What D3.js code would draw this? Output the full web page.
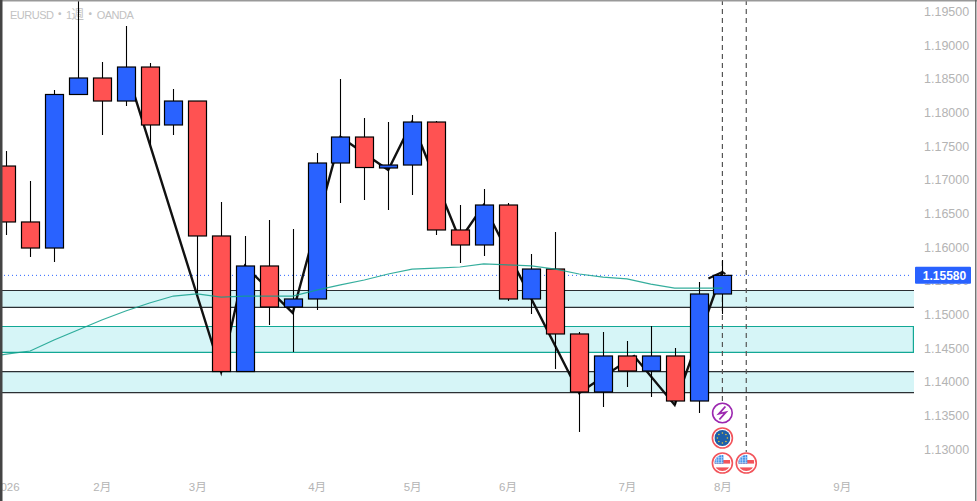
<!DOCTYPE html>
<html>
<head>
<meta charset="utf-8">
<script src="https://cdn.jsdelivr.net/npm/d3@7"></script>
<style>
html, body { margin: 0; padding: 0; background: #fff; overflow: hidden; }
svg { display: block; }
text { font-family: "Liberation Sans", "Noto Sans CJK JP", sans-serif; }
.axis text { fill: #b4b4b4; font-weight: normal; }
.y.axis text { font-size: 12.5px; }
.x.axis text { font-size: 11.5px; }
.axis path, .axis line { display: none; }
</style>
</head>
<body>
<div id="graphContainer"></div>
<script>
var W = 977, H = 501;

// weekly candles, first bar is the week of 2026-01-05
var opens = [1.17204,1.16373,1.15986,1.18267,1.18512,1.18170,1.18675,1.17814,1.18170,1.16165,1.14151,1.15719,1.15110,1.15229,1.17249,1.17635,1.17175,1.17219,1.17858,1.16254,1.16031,1.16625,1.15229,1.15674,1.14709,1.13847,1.14382,1.14159,1.14382,1.13713,1.15303]
var highs = [1.17427,1.16982,1.18334,1.19750,1.18750,1.19285,1.18735,1.18349,1.18170,1.16670,1.16165,1.16402,1.16269,1.17398,1.18497,1.17918,1.17858,1.17962,1.17873,1.16625,1.16863,1.16655,1.15897,1.16224,1.14738,1.14738,1.14605,1.14827,1.14501,1.15481,1.15808]
var lows = [1.16179,1.15853,1.15778,1.18267,1.17665,1.18096,1.17517,1.17665,1.15318,1.14129,1.14151,1.14842,1.14441,1.15065,1.16655,1.16699,1.16551,1.16774,1.16179,1.15763,1.15867,1.15199,1.15006,1.14189,1.13253,1.13624,1.13921,1.13773,1.13654,1.13535,1.15006]
var closes = [1.16373,1.15986,1.18267,1.18512,1.18170,1.18675,1.17814,1.18170,1.16165,1.14151,1.15719,1.15110,1.15229,1.17249,1.17635,1.17182,1.17219,1.17858,1.16254,1.16031,1.16625,1.15229,1.15674,1.14709,1.13847,1.14382,1.14159,1.14382,1.13713,1.15303,1.15580]

// moving average, starts one bar before the first candle
var maIndex = [-1,0,1,2,3,4,5,6,7,8,9,10,11,12,13,14,15,16,17,18,19,20,21,22,23,24,25,26,27,28,29,30]
var maValues = [1.14352,1.14411,1.14456,1.14619,1.14768,1.14917,1.15050,1.15169,1.15273,1.15303,1.15258,1.15273,1.15273,1.15273,1.15362,1.15437,1.15511,1.15600,1.15674,1.15689,1.15704,1.15749,1.15734,1.15719,1.15674,1.15600,1.15555,1.15526,1.15451,1.15392,1.15392,1.15392]

// the thick black swing line
var swingIndex = [5,9,10,12,14,16,17,19,20,24,26.3,28,30]
var swingValues = [1.18675,1.14144,1.15719,1.15021,1.17635,1.17145,1.17858,1.16105,1.16625,1.13832,1.14382,1.13654,1.15630]

var zoneTops = [1.15355,1.14820,1.14151]
var zoneBottoms = [1.15105,1.14437,1.13839]
var zoneLines = ["#2b2f33","#12a895","#2b2f33"]

var priceTicks = [1.195,1.19,1.185,1.18,1.175,1.17,1.165,1.16,1.155,1.15,1.145,1.14,1.135,1.13]
var monthTicks = [0,4,8,13,17,21,26,30,35]
var monthLabels = ["2026","2月","3月","4月","5月","6月","7月","8月","9月"]

var lastPrice = 1.1558
var titleParts = ["EURUSD","・","1","週","・","OANDA"]
var eventBars = [30,31]
var eventIcons = [["bolt","eu","us"],["us"]]

var chartRight = 914

var x = d3.scaleLinear().domain([0,30]).range([6.3,722.4])
var y = d3.scaleLinear().domain([1.13,1.195]).range([449,11.5])
var bodyWidth = 18

var svg = d3.select("#graphContainer").append("svg")
  .attr("width", W)
  .attr("height", H)

svg.append("clipPath").attr("id","plotClip").append("rect")
  .attr("x",0).attr("y",0).attr("width",chartRight).attr("height",H)

var plot = svg.append("g").attr("clip-path","url(#plotClip)")

// title, wicks run over it
var titleText = plot.append("text")
  .attr("x",10)
  .attr("y",19)
  .attr("fill","#c2c2c2")

titleParts.forEach(function(part){
  var latin = /^[A-Z0-9]+$/.test(part)
  titleText.append("tspan")
    .style("font-size", latin ? "11px" : "12.5px")
    .style("letter-spacing", latin ? "-0.5px" : "0")
    .text(part)
})

// zones, top and bottom edges only except the teal one
zoneTops.forEach(function(top,i){
  plot.append("rect")
    .attr("x",0)
    .attr("width",chartRight)
    .attr("y",y(top))
    .attr("height",y(zoneBottoms[i])-y(top))
    .attr("fill","#d6f5f7")
  ;[top,zoneBottoms[i]].forEach(function(edge){
    plot.append("line")
      .attr("x1",0).attr("x2",chartRight)
      .attr("y1",y(edge)).attr("y2",y(edge))
      .attr("stroke",zoneLines[i])
      .attr("stroke-width",1.2)
  })
  if(i==1){
    plot.append("line")
      .attr("x1",chartRight-0.6).attr("x2",chartRight-0.6)
      .attr("y1",y(top)).attr("y2",y(zoneBottoms[i]))
      .attr("stroke",zoneLines[i])
      .attr("stroke-width",1.2)
  }
})

// current price line
plot.append("line")
  .attr("x1",0).attr("x2",chartRight-3)
  .attr("y1",y(lastPrice)).attr("y2",y(lastPrice))
  .attr("stroke","#2962ff")
  .attr("stroke-width",1)
  .attr("stroke-dasharray","1 3")

// event markers
eventBars.forEach(function(b,i){
  plot.append("line")
    .attr("x1",x(b)).attr("x2",x(b))
    .attr("y1",0).attr("y2",i==0 ? 405 : 452)
    .attr("stroke","#555")
    .attr("stroke-width",1.2)
    .attr("stroke-dasharray","5 4")
})

// swing line goes behind the candles
var swingLine = d3.line()
  .x(function(d,i){ return x(swingIndex[i]) })
  .y(function(d){ return y(d) })

plot.append("path")
  .attr("d",swingLine(swingValues))
  .attr("fill","none")
  .attr("stroke","#111")
  .attr("stroke-width",2.4)

var lastX = x(swingIndex[swingIndex.length-1]), lastY = y(swingValues[swingValues.length-1])
plot.append("path")
  .attr("d","M"+(lastX-14)+","+(lastY+6.5)+"L"+lastX+","+lastY+"L"+(lastX+3)+","+(lastY+2))
  .attr("fill","none")
  .attr("stroke","#111")
  .attr("stroke-width",2)

// candles
var candles = plot.selectAll(".candle").data(opens).enter().append("g").attr("class","candle")

candles.append("line")
  .attr("x1",function(d,i){ return Math.round(x(i))+0.5 })
  .attr("x2",function(d,i){ return Math.round(x(i))+0.5 })
  .attr("y1",function(d,i){ return y(highs[i]) })
  .attr("y2",function(d,i){ return y(lows[i]) })
  .attr("stroke","#000")
  .attr("stroke-width",1.1)

candles.append("rect")
  .attr("x",function(d,i){ return Math.round(x(i))+0.5-bodyWidth/2 })
  .attr("width",bodyWidth)
  .attr("y",function(d,i){ return y(Math.max(d,closes[i])) })
  .attr("height",function(d,i){ return Math.abs(y(d)-y(closes[i])) })
  .attr("fill",function(d,i){ return closes[i]>=d ? "#2962ff" : "#ff5252" })
  .attr("stroke","#000")
  .attr("stroke-width",1.2)

// moving average sits on top of the candles
var maLine = d3.line()
  .x(function(d,i){ return x(maIndex[i]) })
  .y(function(d){ return y(d) })

plot.append("path")
  .attr("d",maLine(maValues))
  .attr("fill","none")
  .attr("stroke","#12a08c")
  .attr("stroke-opacity",0.85)
  .attr("stroke-width",1.25)

// event icons
function drawIcon(cx,cy,kind){
  var g = svg.append("g").attr("transform","translate("+cx+","+cy+")")
  if(kind=="bolt"){
    g.append("circle").attr("r",9.8).attr("fill","#fff").attr("stroke","#9c27b0").attr("stroke-width",1.6)
    g.append("path")
      .attr("d","M3,-6.5L-3.5,0.8L3.5,-0.8L-3,6.5")
      .attr("fill","none").attr("stroke","#9c27b0").attr("stroke-width",1.8)
    return
  }
  g.append("circle").attr("r",10).attr("fill","#fff").attr("stroke","#f2545b").attr("stroke-width",1.6)
  var id = "clip"+Math.round(cx)+Math.round(cy)
  g.append("clipPath").attr("id",id).append("circle").attr("r",8)
  var inner = g.append("g").attr("clip-path","url(#"+id+")")
  if(kind=="eu"){
    inner.append("rect").attr("x",-8).attr("y",-8).attr("width",16).attr("height",16).attr("fill","#1e5fa8")
    d3.range(8).forEach(function(k){
      var a = k*Math.PI/4
      inner.append("circle").attr("cx",5*Math.cos(a)).attr("cy",5*Math.sin(a)).attr("r",0.8).attr("fill","#e8c53a")
    })
  } else {
    inner.append("rect").attr("x",-8).attr("y",-8).attr("width",16).attr("height",16).attr("fill","#fff")
    inner.append("rect").attr("x",-8).attr("y",-3).attr("width",16).attr("height",3.6).attr("fill","#f2545b")
    inner.append("rect").attr("x",-8).attr("y",4.4).attr("width",16).attr("height",3.6).attr("fill","#f2545b")
    inner.append("rect").attr("x",-8).attr("y",-8).attr("width",9).attr("height",8.6).attr("fill","#3d8fe8")
    d3.range(3).forEach(function(k){
      inner.append("rect").attr("x",-6.5+k*2.6).attr("y",-8).attr("width",0.6).attr("height",8.6).attr("fill","#cfe3fa")
      inner.append("rect").attr("x",-8).attr("y",-5.5+k*2.2).attr("width",9).attr("height",0.6).attr("fill","#cfe3fa")
    })
  }
}

var iconRows = {bolt:413, eu:438, us:463}
eventBars.forEach(function(b,i){
  eventIcons[i].forEach(function(kind){
    drawIcon(x(b),iconRows[kind],kind)
  })
})

// axes
var yAxis = svg.append("g")
  .attr("class","y axis")
  .attr("transform","translate(924,0)")
  .call(d3.axisRight(y).tickValues(priceTicks).tickSize(0).tickPadding(0).tickFormat(d3.format(".5f")))

var xAxis = svg.append("g")
  .attr("class","x axis")
  .attr("transform","translate(0,481)")
  .call(d3.axisBottom(x).tickValues(monthTicks).tickSize(0).tickPadding(2)
    .tickFormat(function(d,i){ return monthLabels[i] }))

// last price tag
svg.append("rect")
  .attr("x",915).attr("width",56)
  .attr("y",y(lastPrice)-8.5).attr("height",17)
  .attr("rx",1)
  .attr("fill","#2962ff")

svg.append("text")
  .attr("x",944.5)
  .attr("y",y(lastPrice))
  .attr("dy","0.35em")
  .attr("text-anchor","middle")
  .attr("fill","#fff")
  .style("font-size","12px")
  .style("font-weight","bold")
  .text(d3.format(".5f")(lastPrice))

// frame
svg.append("rect").attr("x",0).attr("y",0).attr("width",W).attr("height",1.5).attr("fill","#999")
svg.append("rect").attr("x",0).attr("y",0).attr("width",2.5).attr("height",H).attr("fill","#444")
svg.append("rect").attr("x",975.2).attr("y",0).attr("width",1.2).attr("height",H).attr("fill","#555")
</script>
</body>
</html>
